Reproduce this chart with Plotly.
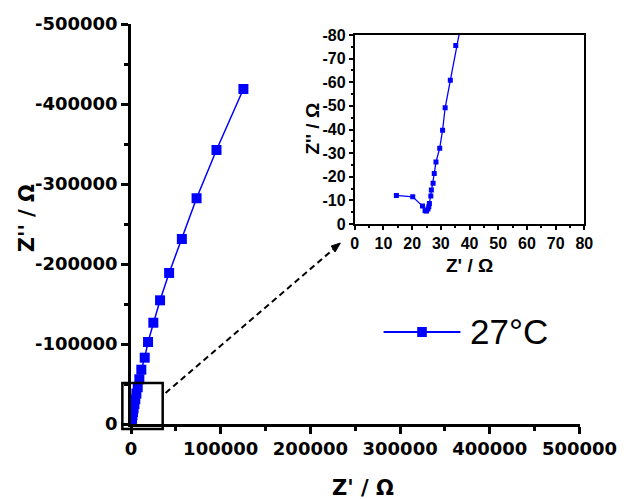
import plotly.graph_objects as go

# Impedance spectrum at 27 °C (Z' and Z'' in ohm), high to low frequency
z_re = [14.5, 20.2, 23.6, 24.5, 25.0, 25.5, 25.8, 26.0, 26.5, 26.7, 27.3, 27.7,
        28.3, 29.6, 30.6, 31.5, 33.3, 35.2,
        42, 55, 80, 120, 180, 260, 380, 550, 800, 1150, 1600, 2200, 2900, 3800,
        4800, 6000, 7500, 9300, 11500, 15300, 19000, 24900, 32400, 42500, 56700,
        73100, 95300, 125300]
z_im = [-12.1, -11.5, -7.6, -5.6, -5.5, -6.3, -7.3, -8.7, -11.8, -14.4, -17.3, -21.4,
        -26.2, -32.1, -39.7, -49.2, -60.8, -75.6,
        -120, -210, -400, -700, -1150, -1800, -2700, -4000, -5800, -8000, -11000,
        -15000, -19500, -25000, -31000, -38000, -46000, -55900, -67900, -82900,
        -102500, -126600, -154600, -188800, -231300, -282100, -342500, -418800]

series_name = "27°C"

main_x_ticks = [0, 100000, 200000, 300000, 400000, 500000]
main_x_text = ["0", "100000", "200000", "300000", "400000", "500000"]
main_y_ticks = [0, -100000, -200000, -300000, -400000, -500000]
main_y_text = ["0", "-100000", "-200000", "-300000", "-400000", "-500000"]
inset_x_ticks = [0, 10, 20, 30, 40, 50, 60, 70, 80]
inset_x_text = ["0", "10", "20", "30", "40", "50", "60", "70", "80"]
inset_y_ticks = [0, -10, -20, -30, -40, -50, -60, -70, -80]
inset_y_text = ["0", "-10", "-20", "-30", "-40", "-50", "-60", "-70", "-80"]

BLUE = "#0000FF"
W, H = 642, 499
L, R, T, B = 131, 31, 24, 75
PW, PH = W - L - R, H - T - B


def px(x):
    return (x - L) / PW


def py(y):
    return (H - B - y) / PH


fig = go.Figure()

fig.add_trace(go.Scatter(
    x=z_re, y=z_im, mode="lines+markers", name=series_name,
    line=dict(color=BLUE, width=1.5),
    marker=dict(symbol="square", size=10, color=BLUE),
    xaxis="x", yaxis="y", showlegend=False,
))
fig.add_trace(go.Scatter(
    x=z_re, y=z_im, mode="lines+markers", name=series_name,
    line=dict(color=BLUE, width=1.3),
    marker=dict(symbol="square", size=5, color=BLUE),
    xaxis="x2", yaxis="y2", showlegend=False,
))

main_tick_font = dict(family="DejaVu Sans", size=18, color="black", weight="bold")
inset_tick_font = dict(family="Liberation Sans", size=16, color="black", weight="bold")

fig.update_layout(
    width=W, height=H,
    margin=dict(l=L, r=R, t=T, b=B),
    paper_bgcolor="white", plot_bgcolor="white",
    xaxis=dict(
        domain=[0, px(598)], range=[0, 500000],
        tickmode="array", tickvals=main_x_ticks, ticktext=main_x_text,
        ticks="outside", ticklen=7, tickwidth=2.5, tickcolor="black",
        minor=dict(tickmode="linear", tick0=0, dtick=50000, ticks="outside",
                   ticklen=4, tickwidth=2.5, tickcolor="black"),
        showline=True, linecolor="black", linewidth=2.5, showgrid=False,
        zeroline=False, tickfont=main_tick_font,
    ),
    yaxis=dict(
        domain=[0, 1], range=[0, -500000],
        tickmode="array", tickvals=main_y_ticks, ticktext=main_y_text,
        ticks="outside", ticklen=7, tickwidth=2.5, tickcolor="black",
        minor=dict(tickmode="linear", tick0=0, dtick=50000, ticks="outside",
                   ticklen=4, tickwidth=2.5, tickcolor="black"),
        showline=True, linecolor="black", linewidth=2.5, showgrid=False,
        zeroline=False, tickfont=main_tick_font,
    ),
    xaxis2=dict(
        domain=[px(364), px(603)], anchor="y2", range=[0, 80],
        tickmode="array", tickvals=inset_x_ticks, ticktext=inset_x_text,
        ticks="outside", ticklen=4, tickwidth=2, tickcolor="black",
        minor=dict(tickmode="linear", tick0=0, dtick=5, ticks="outside",
                   ticklen=2, tickwidth=2, tickcolor="black"),
        showline=True, mirror=True, linecolor="black", linewidth=2,
        showgrid=False, zeroline=False, tickfont=inset_tick_font,
    ),
    yaxis2=dict(
        domain=[py(224), py(35)], anchor="x2", range=[0, -80],
        tickmode="array", tickvals=inset_y_ticks, ticktext=inset_y_text,
        ticks="outside", ticklen=4, tickwidth=2, tickcolor="black",
        minor=dict(tickmode="linear", tick0=0, dtick=5, ticks="outside",
                   ticklen=2, tickwidth=2, tickcolor="black"),
        showline=True, mirror=True, linecolor="black", linewidth=2,
        showgrid=False, zeroline=False, tickfont=inset_tick_font,
    ),
)

title_font = dict(family="DejaVu Sans", size=21, color="black", weight="bold")
inset_title_font = dict(family="Liberation Sans", size=19, color="black", weight="bold")

annotations = [
    dict(text="Z' / Ω", x=px(373), y=py(488), font=title_font),
    dict(text="Z'' / Ω", x=px(23), y=py(218), textangle=-90, font=title_font),
    dict(text="Z' / Ω", x=px(483), y=py(265), font=inset_title_font),
    dict(text="Z'' / Ω", x=px(319), y=py(129), textangle=-90, font=inset_title_font),
    dict(text=series_name, x=px(482), y=py(331), xanchor="left",
         font=dict(family="Liberation Sans", size=35, color="black")),
]
for a in annotations:
    a.setdefault("xanchor", "center")
    a.update(xref="paper", yref="paper", yanchor="middle", showarrow=False)
fig.update_layout(annotations=annotations)

# Zoom box around the origin, dashed pointer to the inset, legend glyph
tip = (349, 243)
shapes = [
    dict(type="rect", x0=px(122), y0=py(383), x1=px(164), y1=py(429),
         line=dict(color="black", width=2.5)),
    dict(type="line", x0=px(167), y0=py(393), x1=px(342), y1=py(249),
         line=dict(color="black", width=2, dash="6px,4px")),
    dict(type="path",
         path=f"M {px(tip[0])} {py(tip[1])} L {px(339.5)} {py(246)} "
              f"L {px(343.5)} {py(252)} Z",
         fillcolor="black", line=dict(color="black", width=1)),
    dict(type="line", x0=px(394), y0=py(332), x1=px(474), y1=py(332),
         line=dict(color=BLUE, width=2)),
    dict(type="rect", x0=px(429), y0=py(327), x1=px(439), y1=py(337),
         fillcolor=BLUE, line=dict(color=BLUE, width=0)),
]
for s in shapes:
    s.update(xref="paper", yref="paper")
fig.update_layout(shapes=shapes)

fig.write_html("out.html")
